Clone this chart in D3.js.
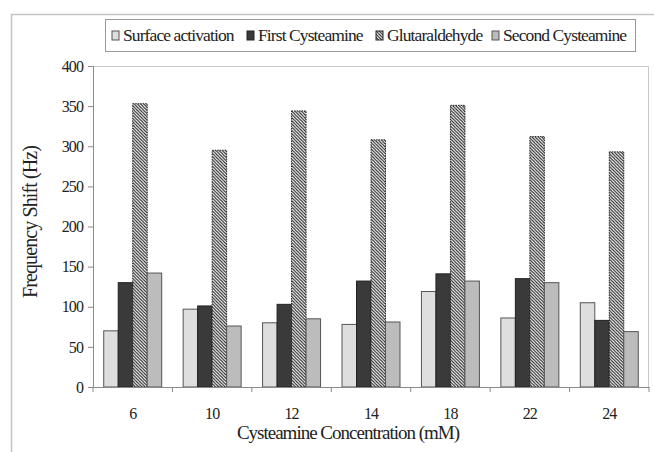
<!DOCTYPE html>
<html>
<head>
<meta charset="utf-8">
<script src="https://cdn.jsdelivr.net/npm/d3@7/dist/d3.min.js"></script>
<style>
  body { margin: 0; background: #fff; }
  svg text { font-family: 'Liberation Serif', 'DejaVu Serif', serif !important; }
</style>
</head>
<body>
<div id="chart"></div>
<script>
// values
const concentrations = ['6', '10', '12', '14', '18', '22', '24'];
const seriesNames = ['Surface activation', 'First Cysteamine', 'Glutaraldehyde', 'Second Cysteamine'];
const surfaceActivation = [70, 97, 80, 78, 119, 86, 105];
const firstCysteamine = [130, 101, 103, 132, 141, 135, 83];
const glutaraldehyde = [353, 295, 344, 308, 351, 312, 293];
const secondCysteamine = [142, 76, 85, 81, 132, 130, 69];
const yTicks = [0, 50, 100, 150, 200, 250, 300, 350, 400];

const seriesValues = [surfaceActivation, firstCysteamine, glutaraldehyde, secondCysteamine];

const width = 654, height = 452;
const margin = { top: 66, right: 5, bottom: 65, left: 93 };
const w = width - margin.left - margin.right;
const h = height - margin.top - margin.bottom;
const serif = "'Liberation Serif', 'DejaVu Serif', serif";

const svg = d3.select('#chart').append('svg')
  .attr('width', width)
  .attr('height', height)
  .attr('font-family', serif);

const defs = svg.append('defs');
const hatch = defs.append('pattern')
  .attr('id', 'hatch')
  .attr('patternUnits', 'userSpaceOnUse')
  .attr('width', 3.2)
  .attr('height', 3.2);
hatch.append('rect').attr('width', 3.2).attr('height', 3.2).attr('fill', '#fff');
hatch.append('path')
  .attr('d', 'M-0.8,-0.8 L4,4 M-0.8,2.4 L0.8,4 M2.4,-0.8 L4,0.8')
  .attr('stroke', '#222')
  .attr('stroke-width', 1.1);

const fills = ['#dedede', '#3a3a3a', 'url(#hatch)', '#bcbcbc'];
const strokes = ['#555', '#222', '#222', '#555'];

// outer frame
svg.append('path')
  .attr('d', `M11.5,${height} V14.5 H${width}`)
  .attr('fill', 'none')
  .attr('stroke', '#c4c4c4')
  .attr('stroke-width', 1.5);

const g = svg.append('g').attr('transform', `translate(${margin.left},${margin.top})`);

const x = d3.scaleBand().domain(concentrations).range([0, w]).paddingInner(0.27).paddingOuter(0.135);
const xs = d3.scaleBand().domain(seriesNames).range([0, x.bandwidth()]);
const y = d3.scaleLinear().domain([0, 400]).range([h, 0]);

// plot area border (top / right)
g.append('path')
  .attr('d', `M0,0.5 H${w - 0.5} V${h}`)
  .attr('fill', 'none')
  .attr('stroke', '#c8c8c8')
  .attr('stroke-width', 1);

// bars
seriesNames.forEach((name, si) => {
  g.append('g')
    .selectAll('rect')
    .data(seriesValues[si].map((v, i) => ({ c: concentrations[i], v })))
    .enter()
    .append('rect')
    .attr('x', d => x(d.c) + xs(name))
    .attr('width', xs.bandwidth())
    .attr('y', d => y(d.v))
    .attr('height', d => h - y(d.v))
    .attr('fill', fills[si])
    .attr('stroke', strokes[si])
    .attr('stroke-width', 1)
    .attr('stroke-dasharray', si === 2 ? '1.5,1' : null);
});

// y axis
const yAxis = g.append('g')
  .call(d3.axisLeft(y).tickValues(yTicks).tickSize(5).tickPadding(5))
  .attr('font-family', serif);
yAxis.select('.domain').attr('stroke', '#8a8a8a');
yAxis.selectAll('.tick line').attr('stroke', '#8a8a8a');
yAxis.selectAll('text')
  .attr('font-size', 16)
  .attr('letter-spacing', -0.9)
  .attr('fill', '#222');

// x axis (labels centred, ticks between categories)
const xAxis = g.append('g')
  .attr('transform', `translate(0,${h})`)
  .call(d3.axisBottom(x).tickSize(0).tickPadding(21))
  .attr('font-family', serif);
xAxis.select('.domain').attr('stroke', '#8a8a8a');
xAxis.selectAll('text')
  .attr('font-size', 16)
  .attr('letter-spacing', -0.9)
  .attr('fill', '#222');

const step = x.step();
const bounds = concentrations.map(c => x(c) + x.bandwidth() / 2 - step / 2).concat([w]);
g.append('g').selectAll('line')
  .data(bounds)
  .enter()
  .append('line')
  .attr('x1', d => d).attr('x2', d => d)
  .attr('y1', h).attr('y2', h + 5)
  .attr('stroke', '#8a8a8a');

// axis titles
svg.append('text')
  .attr('x', 348)
  .attr('y', 439)
  .attr('text-anchor', 'middle')
  .attr('font-size', 19)
  .attr('letter-spacing', -1)
  .attr('fill', '#222')
  .text('Cysteamine Concentration (mM)');

svg.append('text')
  .attr('transform', 'translate(37,222) rotate(-90)')
  .attr('text-anchor', 'middle')
  .attr('font-size', 20)
  .attr('letter-spacing', -0.9)
  .attr('fill', '#222')
  .text('Frequency Shift (Hz)');

// legend
const legend = svg.append('g');
legend.append('rect')
  .attr('x', 105.5).attr('y', 19.5)
  .attr('width', 530).attr('height', 32)
  .attr('fill', '#fff')
  .attr('stroke', '#9a9a9a');

const legendX = [112, 247, 376, 492];
seriesNames.forEach((name, si) => {
  const item = legend.append('g').attr('transform', `translate(${legendX[si]},31)`);
  item.append('rect')
    .attr('width', 7).attr('height', 9)
    .attr('fill', fills[si])
    .attr('stroke', strokes[si]);
  item.append('text')
    .attr('x', 11).attr('y', 10)
    .attr('font-size', 17.5)
    .attr('letter-spacing', -0.9)
    .attr('fill', '#222')
    .text(name);
});
</script>
</body>
</html>
